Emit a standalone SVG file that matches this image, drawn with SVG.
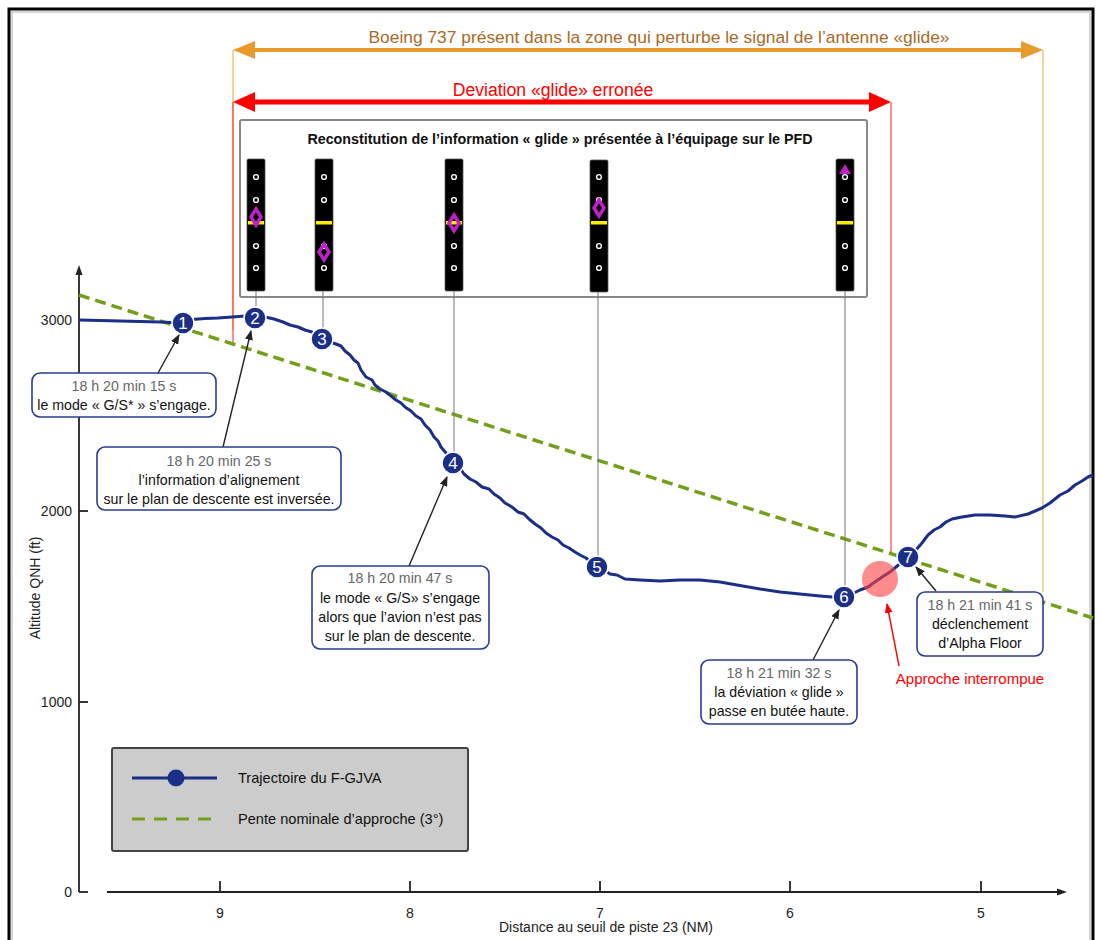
<svg xmlns="http://www.w3.org/2000/svg" width="1101" height="940" viewBox="0 0 1101 940">
<style>
text{font-family:"Liberation Sans",Arial,sans-serif;}
.cb{fill:#fff;stroke:#2a3d8f;stroke-width:1.6;}
.tg{fill:#666;font-size:14.2px;text-anchor:middle;}
.tb{fill:#111;font-size:14.2px;text-anchor:middle;}
.tick{fill:#222;font-size:14px;}
.scale{fill:#000;stroke:#555;stroke-width:0.8;}
.dot{fill:none;stroke:#fff;stroke-width:1.4;}
.bar{fill:#ffee00;}
.dia{fill:none;stroke:#c020c8;stroke-width:3.5;stroke-linejoin:miter;}
.node circle{fill:#1b2f86;stroke:#fff;stroke-width:1.5;}
.node text{fill:#fff;font-size:17px;text-anchor:middle;}
.lead{stroke:#777;stroke-width:1;fill:none;}
.ptr{stroke:#222;stroke-width:1.4;fill:none;marker-end:url(#ah);}
</style>
<defs>
<marker id="ah" markerWidth="10" markerHeight="8" refX="9" refY="4" orient="auto" markerUnits="userSpaceOnUse">
<path d="M0,0 L10,4 L0,8 Z" fill="#222"/>
</marker>
<marker id="ahr" markerWidth="10" markerHeight="8" refX="9" refY="4" orient="auto" markerUnits="userSpaceOnUse">
<path d="M0,0 L10,4 L0,8 Z" fill="#ff0000"/>
</marker>
</defs>
<rect x="0" y="0" width="1101" height="940" fill="#fff"/>
<rect x="9" y="9" width="1084" height="945" fill="none" stroke="#000" stroke-width="3"/>
<rect x="12" y="12" width="1078" height="940" fill="none" stroke="#aaa" stroke-width="1"/>

<!-- top span arrows -->
<g id="boeing-zone">
<line x1="233" y1="50" x2="233" y2="330" stroke="#f0a040" stroke-width="1"/>
<line x1="1043" y1="50" x2="1043" y2="592" stroke="#f0a040" stroke-width="1"/>
<line x1="252" y1="50" x2="1024" y2="50" stroke="#e89a2c" stroke-width="4"/>
<polygon points="233,50 255,41 255,59" fill="#e89a2c"/>
<polygon points="1043,50 1021,41 1021,59" fill="#e89a2c"/>
<text x="659" y="43" font-size="17.4" fill="#a86a28" text-anchor="middle">Boeing 737 présent dans la zone qui perturbe le signal de l’antenne «glide»</text>
</g>
<g id="deviation-zone">
<line x1="233" y1="102" x2="233" y2="343" stroke="#ff2020" stroke-width="1"/>
<line x1="891" y1="102" x2="891" y2="552" stroke="#ff2020" stroke-width="1"/>
<line x1="252" y1="102" x2="872" y2="102" stroke="#ff0000" stroke-width="5"/>
<polygon points="233,102 255,92 255,112" fill="#ff0000"/>
<polygon points="891,102 869,92 869,112" fill="#ff0000"/>
<text x="553" y="96" font-size="17.6" fill="#ff0000" text-anchor="middle">Deviation «glide» erronée</text>
</g>

<!-- PFD panel -->
<g id="pfd-panel">
<rect x="240" y="120" width="627" height="177" rx="2" fill="#fff" stroke="#888" stroke-width="2"/>
<text x="560" y="144" font-size="14.3" font-weight="bold" fill="#111" text-anchor="middle">Reconstitution de l’information « glide » présentée à l’équipage sur le PFD</text>
</g>
<g id="pfd-1">
<rect class="scale" x="247" y="159" width="18" height="132" rx="1.5"/>
<circle class="dot" cx="256" cy="177" r="2.4"/><circle class="dot" cx="256" cy="200" r="2.4"/><circle class="dot" cx="256" cy="246" r="2.4"/><circle class="dot" cx="256" cy="268" r="2.4"/>
<rect class="bar" x="248" y="221" width="16" height="3.5"/>
<path class="dia" d="M256,209 L261,217 L256,225 L251,217 Z"/>
</g>
<g id="pfd-2">
<rect class="scale" x="315" y="159" width="18" height="132" rx="1.5"/>
<circle class="dot" cx="324" cy="177" r="2.4"/><circle class="dot" cx="324" cy="200" r="2.4"/><circle class="dot" cx="324" cy="246" r="2.4"/><circle class="dot" cx="324" cy="268" r="2.4"/>
<rect class="bar" x="316" y="221" width="16" height="3.5"/>
<path class="dia" d="M324,244 L329,252 L324,260 L319,252 Z"/>
</g>
<g id="pfd-3">
<rect class="scale" x="445" y="159" width="18" height="132" rx="1.5"/>
<circle class="dot" cx="454" cy="177" r="2.4"/><circle class="dot" cx="454" cy="200" r="2.4"/><circle class="dot" cx="454" cy="246" r="2.4"/><circle class="dot" cx="454" cy="268" r="2.4"/>
<rect class="bar" x="446" y="221" width="16" height="3.5"/>
<path class="dia" d="M454,215 L459,223 L454,231 L449,223 Z"/>
</g>
<g id="pfd-4">
<rect class="scale" x="590" y="160" width="18" height="132" rx="1.5"/>
<circle class="dot" cx="599" cy="177" r="2.4"/><circle class="dot" cx="599" cy="200" r="2.4"/><circle class="dot" cx="599" cy="246" r="2.4"/><circle class="dot" cx="599" cy="268" r="2.4"/>
<rect class="bar" x="591" y="221" width="16" height="3.5"/>
<path class="dia" d="M599,200 L604,208 L599,216 L594,208 Z"/>
</g>
<g id="pfd-5">
<rect class="scale" x="836" y="159" width="18" height="132" rx="1.5"/>
<circle class="dot" cx="845" cy="177" r="2.4"/><circle class="dot" cx="845" cy="200" r="2.4"/><circle class="dot" cx="845" cy="246" r="2.4"/><circle class="dot" cx="845" cy="268" r="2.4"/>
<rect class="bar" x="837" y="221" width="16" height="3.5"/>
<polygon points="845,164 851,174 839,174" fill="#c020c8"/>
</g>

<!-- axes -->
<g id="axes" stroke="#222" stroke-width="1.8" fill="none">
<line x1="79" y1="272" x2="79" y2="892"/>
<line x1="79" y1="320" x2="88" y2="320"/>
<line x1="79" y1="511" x2="88" y2="511"/>
<line x1="79" y1="702" x2="88" y2="702"/>
<line x1="79" y1="892" x2="88" y2="892"/>
<line x1="107" y1="892" x2="1060" y2="892"/>
<line x1="220" y1="881" x2="220" y2="892"/>
<line x1="410" y1="881" x2="410" y2="892"/>
<line x1="600" y1="881" x2="600" y2="892"/>
<line x1="790" y1="881" x2="790" y2="892"/>
<line x1="981" y1="881" x2="981" y2="892"/>
</g>
<polygon points="79,265 75.5,275 82.5,275" fill="#222"/>
<polygon points="1067,892 1057,888.5 1057,895.5" fill="#222"/>
<g id="axis-labels">
<text class="tick" x="72" y="325" text-anchor="end">3000</text>
<text class="tick" x="72" y="516" text-anchor="end">2000</text>
<text class="tick" x="72" y="707" text-anchor="end">1000</text>
<text class="tick" x="72" y="897" text-anchor="end">0</text>
<text class="tick" x="220" y="918" text-anchor="middle">9</text>
<text class="tick" x="410" y="918" text-anchor="middle">8</text>
<text class="tick" x="600" y="918" text-anchor="middle">7</text>
<text class="tick" x="790" y="918" text-anchor="middle">6</text>
<text class="tick" x="981" y="918" text-anchor="middle">5</text>
<text class="tick" x="606" y="932" font-size="14.4" text-anchor="middle">Distance au seuil de piste 23 (NM)</text>
<text class="tick" x="40" y="588" font-size="14.4" text-anchor="middle" transform="rotate(-90 40 588)">Altitude QNH (ft)</text>
</g>

<!-- glide slope -->
<line id="glide-slope" x1="79" y1="295" x2="1093" y2="618" stroke="#72a01a" stroke-width="3.5" stroke-dasharray="11,6"/>

<!-- connectors -->
<g id="connectors">
<line class="lead" x1="256" y1="291" x2="256" y2="308"/>
<line class="lead" x1="323" y1="291" x2="323" y2="329"/>
<line class="lead" x1="454" y1="291" x2="454" y2="453"/>
<line class="lead" x1="598" y1="292" x2="598" y2="557"/>
<line class="lead" x1="845" y1="291" x2="845" y2="587"/>
<line class="ptr" x1="158" y1="373" x2="179" y2="335"/>
<line class="ptr" x1="223" y1="447" x2="251" y2="331"/>
<line class="ptr" x1="409" y1="566" x2="447" y2="477"/>
<line class="ptr" x1="813" y1="660" x2="839" y2="610"/>
<line class="ptr" x1="936" y1="591" x2="916" y2="567"/>
<line x1="899" y1="666" x2="887" y2="604" stroke="#ff0000" stroke-width="1.4" marker-end="url(#ahr)"/>
</g>

<!-- trajectory -->
<path id="trajectory" fill="none" stroke="#1b2f86" stroke-width="3" stroke-linejoin="round" d="M79,320 L100,320.5 L120,321 L140,321.5 L160,322 L183,323 L192,319.5 L205,318.5 L218,318 L232,317 L245,316 L255,316 L265,317 L274,319 L283,322 L290,325 L298,327 L305,330 L312,332 L322,339 L330,342 L336,344 L341,346 L345,351 L350,355 L354,360 L358,363 L361,370 L366,377 L372,380 L375,385 L380,389 L386,392 L391,396 L396,400 L401,403 L405,407 L411,411 L416,416 L421,419 L425,425 L430,430 L434,437 L438,441 L441,447 L446,453 L453,463 L460,468 L464,474 L470,479 L476,482 L482,487 L489,489 L494,494 L500,498 L505,503 L512,507 L518,512 L524,514 L529,519 L535,524 L541,528 L546,533 L552,537 L558,540 L563,545 L569,548 L575,552 L580,555 L586,558 L592,563 L597,567 L604,570 L610,574 L617,575 L625,579 L640,580 L660,581 L680,580 L700,580 L720,582 L737,585 L760,589 L780,592 L800,594 L820,596 L844,598 L852,594 L860,590 L868,587 L875,582 L882,577 L890,572 L896,567 L902,562 L908,557 L915,551 L922,543 L928,535 L934,530 L940,527 L946,522 L952,519 L962,517 L975,515 L990,515 L1005,516 L1015,517 L1028,514 L1042,508 L1050,503 L1060,495 L1068,491 L1075,485 L1082,481 L1088,477 L1093,475"/>
<circle id="go-around" cx="880" cy="579" r="18" fill="#ff4040" fill-opacity="0.6"/>

<!-- nodes -->
<g id="node-1" class="node"><circle cx="183" cy="323" r="11"/><text x="183" y="329">1</text></g>
<g id="node-2" class="node"><circle cx="255" cy="318" r="11"/><text x="255" y="324">2</text></g>
<g id="node-3" class="node"><circle cx="322" cy="339" r="11"/><text x="322" y="345">3</text></g>
<g id="node-4" class="node"><circle cx="453" cy="463" r="11"/><text x="453" y="469">4</text></g>
<g id="node-5" class="node"><circle cx="597" cy="567" r="11"/><text x="597" y="573">5</text></g>
<g id="node-6" class="node"><circle cx="844" cy="597" r="11"/><text x="844" y="603">6</text></g>
<g id="node-7" class="node"><circle cx="908" cy="557" r="11"/><text x="908" y="563">7</text></g>

<!-- callouts -->
<g id="callout-1">
<rect class="cb" x="32" y="373" width="184" height="44" rx="8"/>
<text class="tg" x="124" y="391">18 h 20 min 15 s</text>
<text class="tb" x="124" y="410">le mode « G/S* » s’engage.</text>
</g>
<g id="callout-2">
<rect class="cb" x="97" y="447" width="244" height="63" rx="8"/>
<text class="tg" x="219" y="466">18 h 20 min 25 s</text>
<text class="tb" x="219" y="485">l’information d’alignement</text>
<text class="tb" x="219" y="504">sur le plan de descente est inversée.</text>
</g>
<g id="callout-4">
<rect class="cb" x="312" y="566" width="177" height="83" rx="8"/>
<text class="tg" x="400" y="583">18 h 20 min 47 s</text>
<text class="tb" x="400" y="603">le mode « G/S» s’engage</text>
<text class="tb" x="400" y="622">alors que l’avion n’est pas</text>
<text class="tb" x="400" y="641">sur le plan de descente.</text>
</g>
<g id="callout-6">
<rect class="cb" x="701" y="660" width="156" height="64" rx="8"/>
<text class="tg" x="779" y="678">18 h 21 min 32 s</text>
<text class="tb" x="779" y="697">la déviation « glide »</text>
<text class="tb" x="779" y="716">passe en butée haute.</text>
</g>
<g id="callout-7">
<rect class="cb" x="917" y="592" width="126" height="64" rx="8"/>
<text class="tg" x="980" y="610">18 h 21 min 41 s</text>
<text class="tb" x="980" y="629">déclenchement</text>
<text class="tb" x="980" y="648">d’Alpha Floor</text>
</g>
<g id="label-go-around">
<text x="970" y="684" font-size="15" fill="#ff0000" text-anchor="middle">Approche interrompue</text>
</g>

<!-- legend -->
<g id="legend">
<rect x="112" y="748" width="356" height="103" rx="2" fill="#cccccc" stroke="#444" stroke-width="2"/>
<line x1="132" y1="778" x2="217" y2="778" stroke="#1b2f86" stroke-width="3"/>
<circle cx="176" cy="778" r="8.5" fill="#1b2f86"/>
<text x="238" y="783" font-size="14.6" fill="#111">Trajectoire du F-GJVA</text>
<line x1="132" y1="819" x2="217" y2="819" stroke="#72a01a" stroke-width="3" stroke-dasharray="13,9"/>
<text x="238" y="824" font-size="14.6" fill="#111">Pente nominale d’approche (3°)</text>
</g>
</svg>
